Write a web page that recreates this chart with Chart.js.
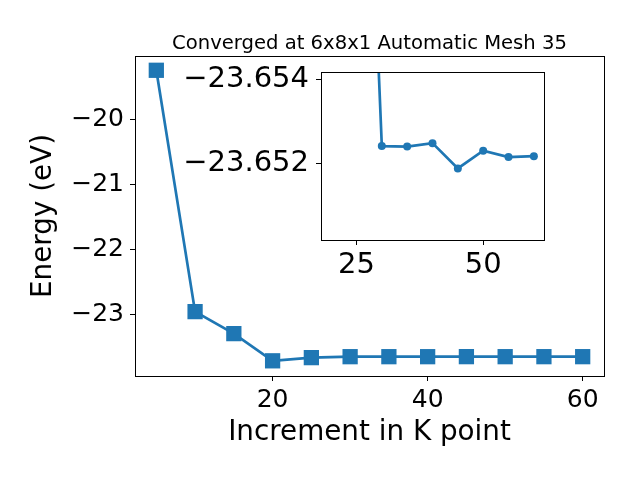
<!DOCTYPE html>
<html>
<head>
<meta charset="utf-8">
<script src="https://cdn.jsdelivr.net/npm/chart.js@4"></script>
<style>
  body { margin: 0; background: #fff; }
  #wrap { position: relative; width: 640px; height: 480px; }
  canvas { position: absolute; left: 0; top: 0; }
</style>
</head>
<body>
<div id="wrap">
  <canvas id="mainChart" width="640" height="480"></canvas>
  <canvas id="insetChart" width="640" height="480"></canvas>
</div>
<script>
const kPoints = [5, 10, 15, 20, 25, 30, 35, 40, 45, 50, 55, 60];
const energy = [-19.24, -22.958, -23.297, -23.716, -23.667, -23.65241, -23.6524, -23.65248, -23.65188, -23.6523, -23.65215, -23.65217];
// the inset only shows the runs from 20 onwards
const insetStart = 3;
const mainXTicks = [20, 40, 60];
const mainYTicks = [-20, -21, -22, -23];
const insetXTicks = [25, 50];
const insetYTicks = [-23.654, -23.652];
const chartTitle = "Converged at 6x8x1 Automatic Mesh 35";

const blue = "#1f77b4";
const font = "'DejaVu Sans', sans-serif";
const minus = (s) => String(s).replace("-", "\u2212");

const points = kPoints.map((k, i) => ({ x: k, y: energy[i] }));
const insetPoints = points.slice(insetStart);

const frame = {
  id: "frame",
  beforeDraw(chart, args, opts) {
    if (!opts.fill) return;
    const a = chart.chartArea;
    chart.ctx.save();
    chart.ctx.fillStyle = "#fff";
    chart.ctx.fillRect(a.left, a.top, a.right - a.left, a.bottom - a.top);
    chart.ctx.restore();
  },
  afterDraw(chart, args, opts) {
    const a = chart.chartArea;
    const ctx = chart.ctx;
    ctx.save();
    ctx.strokeStyle = "#000";
    ctx.lineWidth = 1;
    ctx.strokeRect(a.left + 0.5, a.top + 0.5, a.right - a.left, a.bottom - a.top);
    if (opts.title) {
      ctx.fillStyle = "#000";
      ctx.font = "19.6px " + font;
      ctx.textAlign = "center";
      ctx.textBaseline = "alphabetic";
      ctx.fillText(opts.title, (a.left + a.right) / 2, 49);
    }
    ctx.restore();
  },
};

const axisGrid = {
  drawOnChartArea: false,
  drawTicks: true,
  tickLength: 5,
  color: "#000",
};

new Chart(document.getElementById("mainChart").getContext("2d"), {
  type: "line",
  data: {
    datasets: [
      {
        data: points,
        borderColor: blue,
        backgroundColor: blue,
        borderWidth: 2.7,
        pointStyle: "rect",
        pointRadius: 10.8,
        pointBorderWidth: 0,
        tension: 0,
      },
    ],
  },
  options: {
    responsive: false,
    animation: false,
    devicePixelRatio: 1,
    layout: { padding: { left: 0, right: 36, top: 56, bottom: 0 } },
    scales: {
      x: {
        type: "linear",
        min: 2.25,
        max: 62.75,
        afterBuildTicks: (s) => { s.ticks = mainXTicks.map((v) => ({ value: v })); },
        afterFit: (s) => { s.height = 104; },
        grid: axisGrid,
        border: { display: true, color: "#000" },
        ticks: { color: "#000", font: { family: font, size: 25 }, padding: 4, maxRotation: 0 },
        title: {
          display: true,
          text: "Increment in K point",
          color: "#000",
          font: { family: font, size: 27.8 },
          padding: { top: 0, bottom: 31 },
        },
      },
      y: {
        min: -23.95,
        max: -19.02,
        afterBuildTicks: (s) => { s.ticks = mainYTicks.map((v) => ({ value: v })); },
        afterFit: (s) => { s.width = 135; },
        grid: axisGrid,
        border: { display: true, color: "#000" },
        ticks: {
          color: "#000",
          font: { family: font, size: 25 },
          padding: 6,
          callback: (v) => minus(v),
        },
        title: {
          display: true,
          text: "Energy (eV)",
          color: "#000",
          font: { family: font, size: 27.8 },
          padding: { top: 27, bottom: 0 },
        },
      },
    },
    plugins: {
      legend: { display: false },
      tooltip: { enabled: false },
      title: { display: false },
      frame: { fill: false, title: chartTitle },
    },
  },
  plugins: [frame],
});

new Chart(document.getElementById("insetChart").getContext("2d"), {
  type: "line",
  data: {
    datasets: [
      {
        data: insetPoints,
        borderColor: blue,
        backgroundColor: blue,
        borderWidth: 2.7,
        pointStyle: "circle",
        pointRadius: 4,
        pointBorderWidth: 0,
        tension: 0,
      },
    ],
  },
  options: {
    responsive: false,
    animation: false,
    devicePixelRatio: 1,
    layout: { padding: { left: 0, right: 96, top: 72, bottom: 0 } },
    scales: {
      x: {
        type: "linear",
        min: 18,
        max: 62,
        afterBuildTicks: (s) => { s.ticks = insetXTicks.map((v) => ({ value: v })); },
        afterFit: (s) => { s.height = 240; },
        grid: axisGrid,
        border: { display: true, color: "#000" },
        ticks: { color: "#000", font: { family: font, size: 29 }, padding: 3, maxRotation: 0 },
      },
      y: {
        reverse: true,
        min: -23.65417,
        max: -23.65018,
        afterBuildTicks: (s) => { s.ticks = insetYTicks.map((v) => ({ value: v })); },
        afterFit: (s) => { s.width = 321; },
        grid: axisGrid,
        border: { display: true, color: "#000" },
        ticks: {
          color: "#000",
          font: { family: font, size: 29 },
          padding: 7,
          callback: (v) => minus(Number(v).toFixed(3)),
        },
      },
    },
    plugins: {
      legend: { display: false },
      tooltip: { enabled: false },
      title: { display: false },
      frame: { fill: true },
    },
  },
  plugins: [frame],
});
</script>
</body>
</html>
